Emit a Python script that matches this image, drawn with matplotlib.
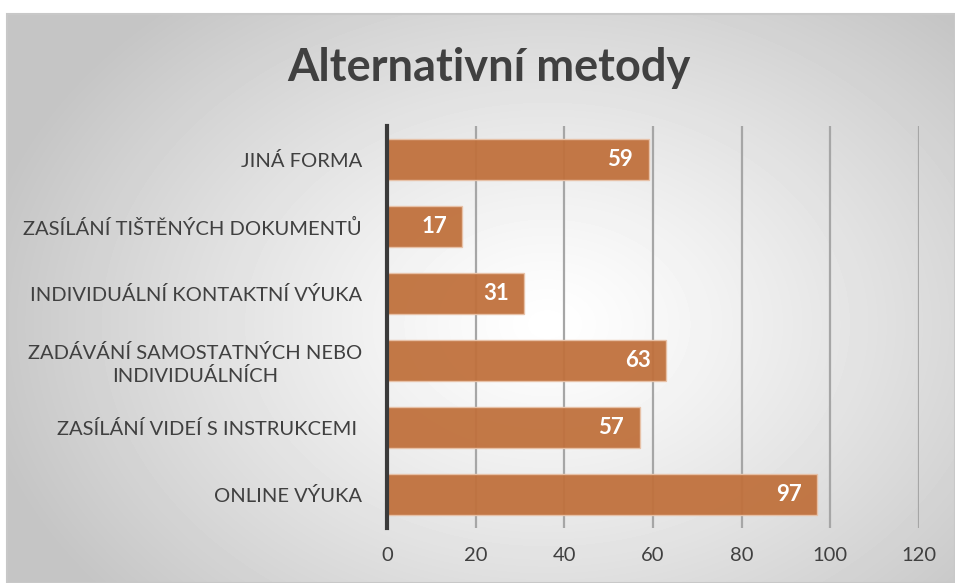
import numpy as np
import matplotlib
matplotlib.use("Agg")
import matplotlib.pyplot as plt
from matplotlib.patches import Rectangle

plt.rcParams['font.family'] = ['Lato', 'DejaVu Sans']

categories = ['JINÁ FORMA', 'ZASÍLÁNÍ TIŠTĚNÝCH DOKUMENTŮ', 'INDIVIDUÁLNÍ KONTAKTNÍ VÝUKA',
              'ZADÁVÁNÍ SAMOSTATNÝCH NEBO\nINDIVIDUÁLNÍCH', 'ZASÍLÁNÍ VIDEÍ S INSTRUKCEMI ',
              'ONLINE VÝUKA']
values = [59, 17, 31, 63, 57, 97]
xticks = [0, 20, 40, 60, 80, 100, 120]

W, H = 955, 583
fig = plt.figure(figsize=(W / 100, H / 100), dpi=100)
fig.patch.set_facecolor('white')

# panel with radial gradient
x0, y0 = 7, 14
bg = fig.add_axes([x0 / W, 0, 1 - x0 / W, 1 - y0 / H], zorder=0)
yy, xx = np.mgrid[0:H - y0, 0:W - x0]
cx, cy = 540, 310
d = np.sqrt(((xx - cx) / 600) ** 2 + ((yy - cy) / 440) ** 2)
g = np.clip(1 - 0.24 * d ** 1.2, 0.77, 1.0)
bg.imshow(g, cmap='gray', vmin=0, vmax=1, aspect='auto', interpolation='bilinear')
bg.set_axis_off()
fig.add_artist(Rectangle((x0 / W, 0), 1 - x0 / W, 1 - y0 / H, transform=fig.transFigure,
                         fill=False, edgecolor='#c8c8c8', linewidth=1.5, zorder=1))

ax = fig.add_axes([387 / W, 1 - 528 / H, (919 - 387) / W, (528 - 126) / H], zorder=2)
ax.patch.set_alpha(0)
y = np.arange(len(categories))
ax.barh(y, values, height=0.6, color='#c0713d', alpha=0.95,
        edgecolor='#e8c2a8', linewidth=1.0, zorder=3)
for yi, v in zip(y, values):
    ax.text(v - 3.5, yi, str(v), ha='right', va='center', color='white',
            fontsize=16, fontweight='bold', zorder=4)

ax.set_xlim(0, 120)
ax.set_ylim(len(categories) - 0.5, -0.5)
ax.set_xticks(xticks)
ax.set_yticks(y)
ax.set_yticklabels(categories, fontsize=14.5, color='#404040', linespacing=1.3)
for lab in ax.get_yticklabels():
    lab.set_multialignment('center')
ax.tick_params(axis='x', labelsize=14.5, colors='#404040', length=0, pad=14)
ax.tick_params(axis='y', length=0, pad=18)
ax.grid(axis='x', color='#a6a6a6', linewidth=1.6, zorder=1)
ax.set_axisbelow(True)
for s in ['top', 'right', 'bottom']:
    ax.spines[s].set_visible(False)
ax.spines['left'].set_color('#3a3a3a')
ax.spines['left'].set_linewidth(3)
ax.spines['left'].set_zorder(5)

fig.text(489 / W, 1 - 68 / H, 'Alternativní metody', ha='center', va='center',
         fontsize=32.5, fontweight='bold', color='#404040')

fig.savefig('out.png', dpi=100)
